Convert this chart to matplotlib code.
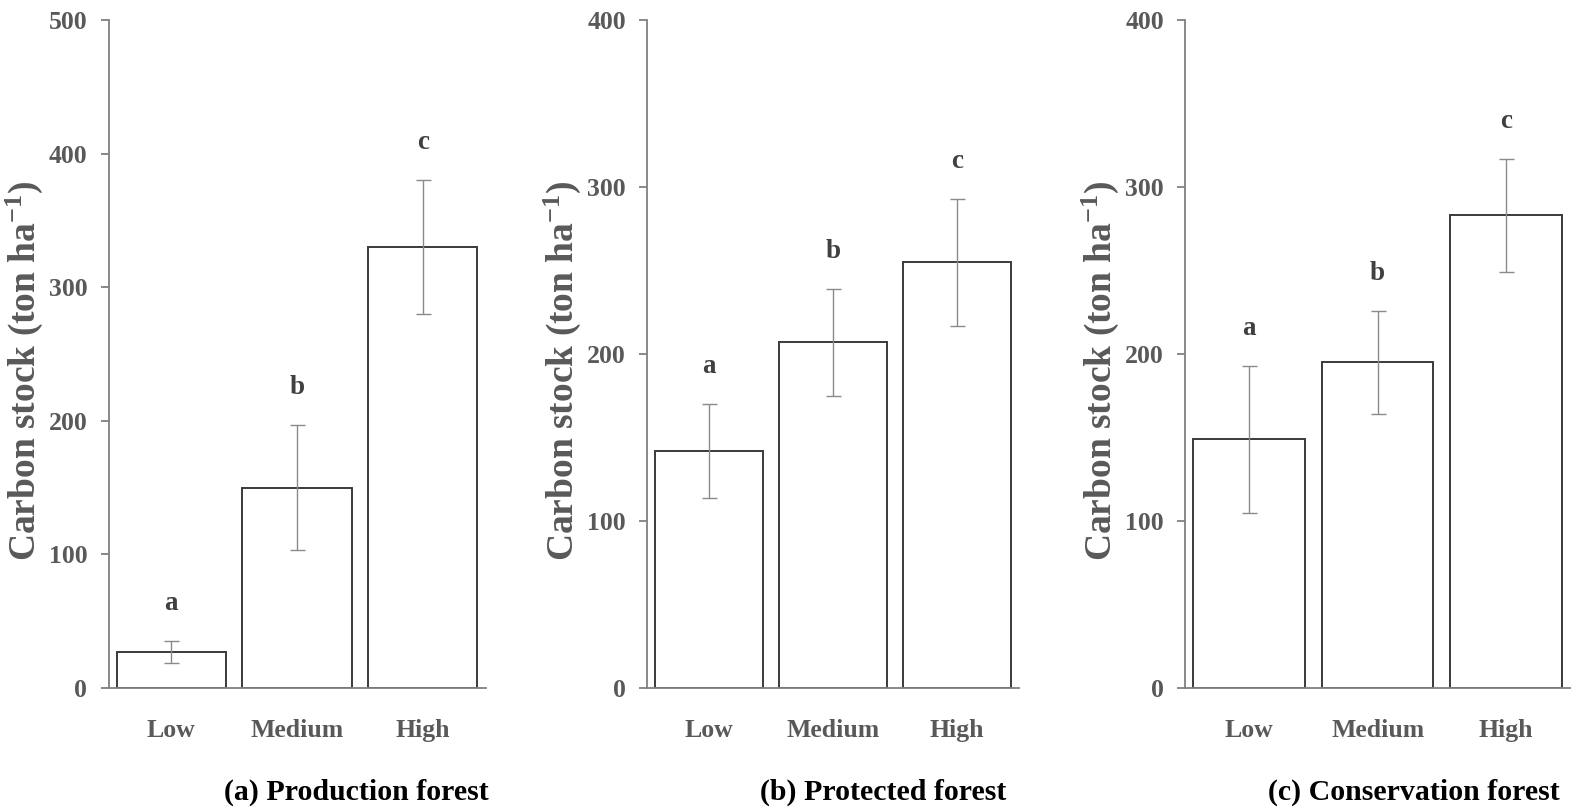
import numpy as np
import matplotlib
matplotlib.use("Agg")
import matplotlib.pyplot as plt

plt.rcParams['font.family'] = ['Liberation Serif', 'DejaVu Serif']
plt.rcParams['font.weight'] = 'bold'
plt.rcParams['mathtext.fontset'] = 'custom'
plt.rcParams['mathtext.rm'] = 'Liberation Serif:bold'
plt.rcParams['mathtext.default'] = 'rm'

categories = ["Low", "Medium", "High"]

# carbon stock means and error (ton/ha)
prod_mean = [27, 150, 330]
prod_err = [8, 47, 50]
prot_mean = [142, 207, 255]
prot_err = [28, 32, 38]
cons_mean = [149, 195, 283]
cons_err = [44, 31, 34]

letters = ["a", "b", "c"]
titles = ["(a) Production forest", "(b) Protected forest", "(c) Conservation forest"]
ymaxes = [500, 400, 400]

gray_txt = "#595959"
gray_ax = "#808080"

fig = plt.figure(figsize=(15.89, 8.08), dpi=100)

# axes boxes in figure fraction (left, bottom, width, height)
boxes = [(0.0683, 0.1485, 0.2373, 0.8267),
         (0.4072, 0.1485, 0.2341, 0.8267),
         (0.7458, 0.1485, 0.2423, 0.8267)]
title_x = [0.224, 0.5557, 0.890]

data = [(prod_mean, prod_err), (prot_mean, prot_err), (cons_mean, cons_err)]

for i in range(3):
    ax = fig.add_axes(boxes[i])
    means, errs = data[i]
    x = np.arange(len(categories))
    ax.bar(x, means, width=0.87, color="white", edgecolor="#3a3a3a", linewidth=1.4)
    ax.errorbar(x, means, yerr=errs, fmt="none", ecolor="#8a8a8a",
                elinewidth=1.0, capsize=5.4, capthick=1.0)
    for j in range(len(x)):
        ax.annotate(letters[j], (x[j], means[j] + errs[j]), xytext=(0, 27),
                    textcoords="offset points", ha="center", va="center",
                    fontsize=19.5, fontweight="bold", color="#404040")
    ax.set_xlim(-0.5, 2.5)
    ax.set_ylim(0, ymaxes[i])
    ax.set_yticks(np.arange(0, ymaxes[i] + 1, 100))
    ax.set_xticks(x)
    ax.set_xticklabels(categories)
    for s in ["top", "right"]:
        ax.spines[s].set_visible(False)
    for s in ["left", "bottom"]:
        ax.spines[s].set_color(gray_ax)
        ax.spines[s].set_linewidth(1.3)
    ax.tick_params(axis="y", length=5.8, width=1.3, color=gray_ax, pad=9.5,
                   labelsize=18.5, labelcolor=gray_txt)
    ax.tick_params(axis="x", length=0, pad=22, labelsize=18.5, labelcolor=gray_txt)
    ax.set_ylabel("Carbon stock (ton ha$^{-1}$)", fontsize=27, fontweight="bold",
                  color=gray_txt)
    w_px = boxes[i][2] * 1589
    ax.yaxis.set_label_coords(-64.0 / w_px, 0.475)
    fig.text(title_x[i], 0.0099, titles[i], ha="center", va="baseline",
             fontsize=21.5, fontweight="bold", color="black")

fig.savefig("out.png", dpi=100)
